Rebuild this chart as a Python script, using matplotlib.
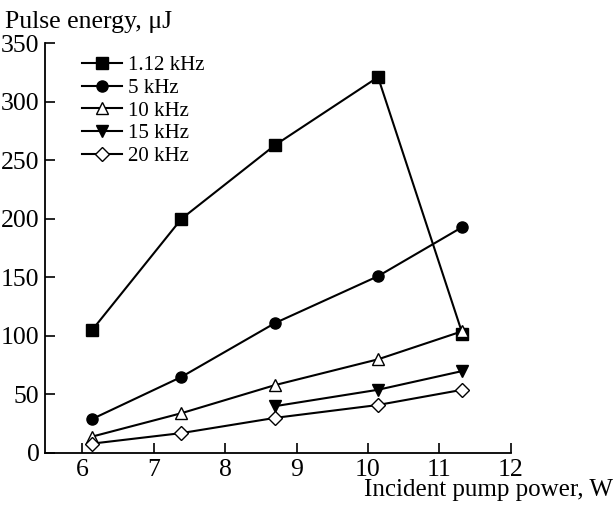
import matplotlib
matplotlib.use('Agg')
from matplotlib import pyplot as plt

plt.rcParams['font.family'] = ['Liberation Serif', 'DejaVu Serif']

power = [6.14, 7.39, 8.70, 10.14, 11.32]
e_112 = [105, 200, 263, 321, 102]
e_5 = [29, 65, 111, 151, 193]
e_10 = [14, 34, 58, 80, 104]
power_15 = [8.70, 10.14, 11.32]
e_15 = [40, 54, 70]
e_20 = [8, 17, 30, 41, 54]

fig = plt.figure(figsize=(6.16, 5.14), dpi=100)
ax = fig.add_axes([0.073, 0.1187, 0.7565, 0.7973])

kw = dict(color='black', lw=1.5, markersize=8, markeredgecolor='black', markeredgewidth=1.0)
ax.plot(power, e_112, marker='s', markerfacecolor='black', label='1.12 kHz', **kw)
ax.plot(power, e_5, marker='o', markerfacecolor='black', label='5 kHz', **kw)
ax.plot(power, e_10, marker='^', markerfacecolor='white', label='10 kHz', **kw)
ax.plot(power_15, e_15, marker='v', markerfacecolor='black', label='15 kHz', **kw)
ax.plot(power, e_20, marker='D', markerfacecolor='white', label='20 kHz', **dict(kw, markersize=7))

ax.set_xlim(5.48, 12)
ax.set_ylim(0, 350)
ax.set_xticks(range(6, 13))
ax.set_yticks(range(0, 351, 50))
ax.spines['top'].set_visible(False)
ax.spines['right'].set_visible(False)
ax.tick_params(direction='in', length=7, width=1.2, labelsize=18.5, pad=4)
for s in ('left', 'bottom'):
    ax.spines[s].set_linewidth(1.3)

leg = ax.legend(loc='upper left', frameon=False, fontsize=15, handlelength=1.9,
                handletextpad=0.3, labelspacing=0.15, bbox_to_anchor=(0.062, 0.99), borderaxespad=0.0)

fig.text(0.008, 0.978, 'Pulse energy, μJ', fontsize=18.5, ha='left', va='top')
fig.text(0.995, 0.025, 'Incident pump power, W', fontsize=18, ha='right', va='bottom')

fig.savefig('out.png', dpi=100)
